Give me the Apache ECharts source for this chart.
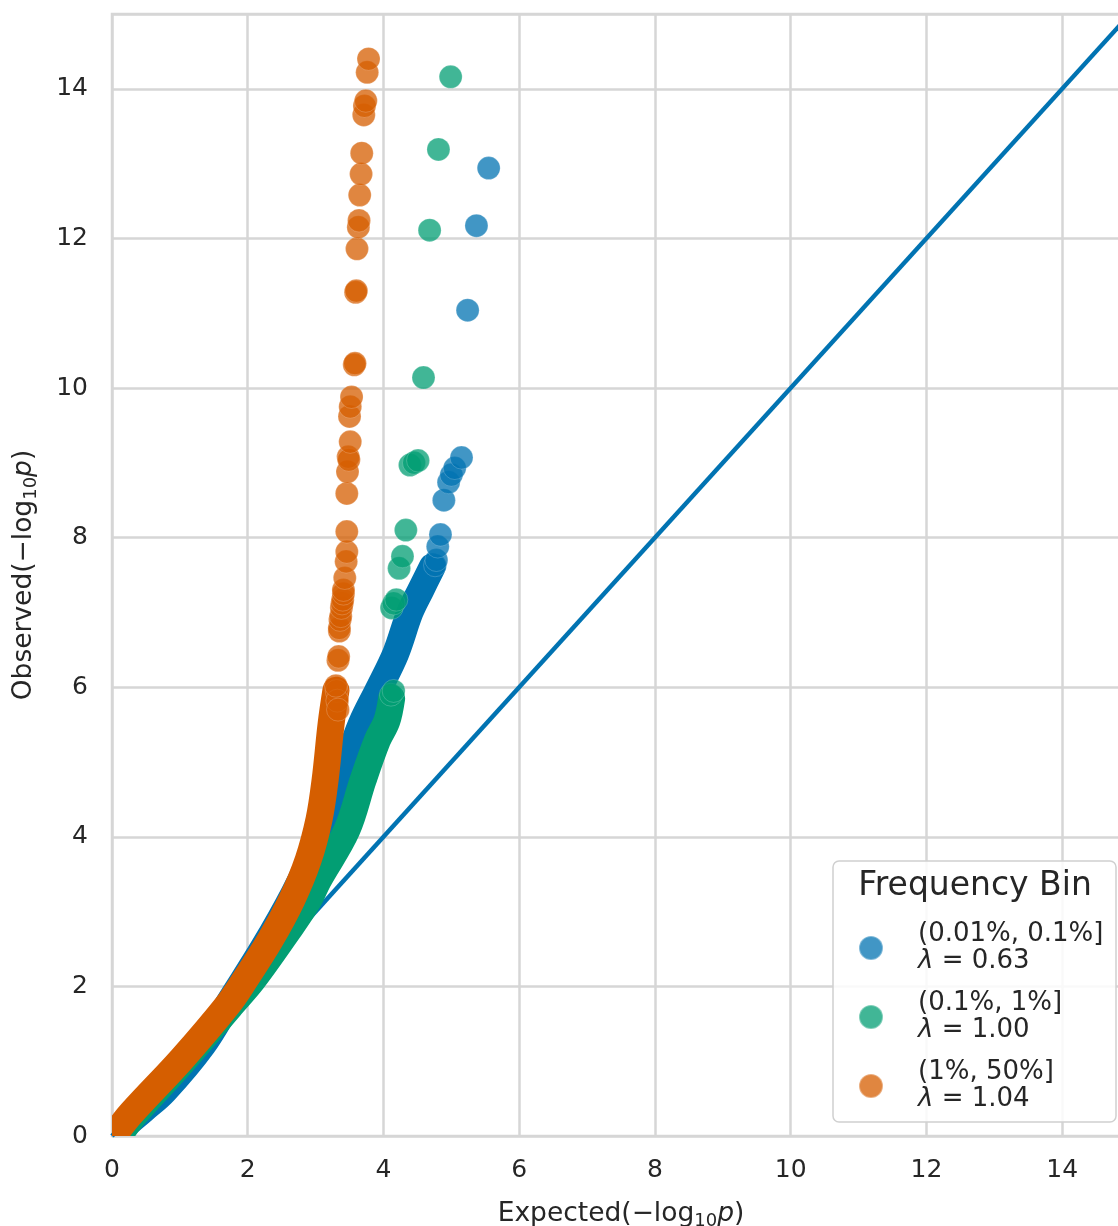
<!DOCTYPE html>
<html>
<head>
<meta charset="utf-8">
<script src="https://cdn.jsdelivr.net/npm/echarts@6/dist/echarts.min.js"></script>
<style>
  html, body { margin: 0; padding: 0; background: #fff; }
  #chart { width: 1118px; height: 1226px; }
</style>
</head>
<body>
<div id="chart"></div>
<script>
// Q-Q plot of association p-values, split by allele frequency bin.

const bins = ['(0.01%, 0.1%]', '(0.1%, 1%]', '(1%, 50%]'];
const lambdas = ['0.63', '1.00', '1.04'];
const colors = ['#0173b2', '#029e73', '#d55e00'];
const tickValues = [0, 2, 4, 6, 8, 10, 12, 14];

// Dense part of each bin (thousands of overlapping points), traced as [expected, observed]
const blueDense = [[0.06, 0.02], [0.18, 0.13], [0.46, 0.35], [0.77, 0.60], [1.34, 1.22], [1.75, 1.82],
  [2.24, 2.53], [2.68, 3.24], [2.97, 3.80], [3.23, 4.49], [3.40, 4.85], [3.68, 5.52], [3.92, 5.96],
  [4.18, 6.45], [4.39, 7.00], [4.55, 7.30], [4.72, 7.61]];
const greenDense = [[0.10, 0.0], [0.33, 0.28], [1.04, 0.99], [1.74, 1.73], [2.08, 2.09], [2.60, 2.75],
  [2.90, 3.16], [3.04, 3.42], [3.46, 4.09], [3.70, 4.76], [3.91, 5.29], [4.05, 5.55], [4.12, 5.85]];
const orangeDense = [[0.02, 0.0], [0.29, 0.31], [1.02, 1.02], [1.71, 1.76], [1.96, 2.09], [2.33, 2.62],
  [2.65, 3.16], [2.89, 3.69], [3.05, 4.23], [3.14, 4.76], [3.23, 5.52], [3.30, 5.96]];

// Sparse tail of each bin: individual variants
const bluePoints = [[4.76, 7.63], [4.78, 7.70], [4.80, 7.88], [4.84, 8.04], [4.89, 8.50], [4.96, 8.74],
  [5.00, 8.84], [5.05, 8.93], [5.15, 9.07], [5.24, 11.04], [5.37, 12.17], [5.55, 12.94]];
const greenPoints = [[4.11, 5.90], [4.15, 5.95], [4.12, 7.06], [4.15, 7.12], [4.19, 7.17], [4.23, 7.59],
  [4.28, 7.75], [4.33, 8.10], [4.39, 8.97], [4.45, 9.00], [4.51, 9.03], [4.59, 10.14], [4.68, 12.11],
  [4.81, 13.19], [4.99, 14.16]];
const orangePoints = [[3.31, 5.95], [3.32, 5.82], [3.33, 5.70], [3.30, 6.02], [3.33, 6.36], [3.34, 6.41],
  [3.35, 6.75], [3.35, 6.79], [3.36, 6.90], [3.37, 6.95], [3.38, 7.06], [3.39, 7.12], [3.40, 7.17],
  [3.41, 7.25], [3.41, 7.30], [3.43, 7.46], [3.45, 7.68], [3.46, 7.81], [3.46, 8.08], [3.46, 8.59],
  [3.47, 8.88], [3.48, 9.08], [3.49, 9.04], [3.51, 9.28], [3.50, 9.62], [3.51, 9.75], [3.53, 9.88],
  [3.57, 10.31], [3.58, 10.33], [3.59, 11.28], [3.60, 11.30], [3.61, 11.86], [3.63, 12.15], [3.64, 12.24],
  [3.65, 12.58], [3.67, 12.86], [3.68, 13.14], [3.71, 13.65], [3.72, 13.77], [3.74, 13.84], [3.76, 14.22],
  [3.78, 14.40]];

// Null expectation: observed = expected
const diagonal = [[0, 0], [15, 15]];

const FONT = '"DejaVu Sans", "Noto Sans", sans-serif';
const INK = '#262626';
const GRID = '#d6d6d6';

const dense = [blueDense, greenDense, orangeDense];
const points = [bluePoints, greenPoints, orangePoints];

function tickFmt(v) { return tickValues.indexOf(v) >= 0 ? String(v) : ''; }

const axisRich = {
  a: { fontFamily: FONT, fontSize: 26.5, color: INK },
  s: { fontFamily: FONT, fontSize: 18, color: INK, padding: [14, 0, 0, 0] },
  i: { fontFamily: FONT, fontSize: 26.5, color: INK, fontStyle: 'italic' }
};

// The dense run of each bin is drawn as one thick rounded stroke through its traced points,
// clipped exactly to the plotting area.
function denseRenderer(track, color) {
  return function (params, api) {
    if (params.dataIndex !== 0) return null;
    return {
      type: 'polyline',
      shape: { points: track.map(function (p) { return api.coord(p); }), smooth: 0.35 },
      style: { stroke: color, lineWidth: 27, lineCap: 'round', lineJoin: 'round', fill: null }
    };
  };
}

const series = [{
  name: 'diagonal', type: 'line', data: diagonal, symbol: 'none', silent: true, z: 1,
  lineStyle: { color: '#0173b2', width: 4.5 }
}];
for (let k = 0; k < 3; k++) {
  series.push({
    name: 'dense-' + k, type: 'custom', data: dense[k], clip: true, silent: true, z: 2,
    encode: { x: 0, y: 1 },
    renderItem: denseRenderer(dense[k], colors[k])
  });
  series.push({
    name: bins[k], type: 'scatter', data: points[k], symbolSize: 23, z: 2,
    itemStyle: { color: colors[k], opacity: 0.75, borderColor: 'rgba(255,255,255,0.45)', borderWidth: 0.6 }
  });
}

const chart = echarts.init(document.getElementById('chart'), null, { renderer: 'canvas' });
chart.setOption({
  animation: false,
  backgroundColor: '#ffffff',
  grid: {
    left: 112, top: 14, right: -12, bottom: 90, outerBoundsMode: 'none', containLabel: false,
    show: true, borderColor: GRID, borderWidth: 2.5
  },
  xAxis: {
    type: 'value', min: 0, max: 15, interval: 2,
    name: '{a|Expected(−log}{s|10}{i|p}{a|)}', nameLocation: 'middle', nameGap: 62,
    nameTextStyle: { rich: axisRich },
    axisLine: { show: false }, axisTick: { show: false },
    axisLabel: { fontFamily: FONT, fontSize: 25, color: INK, margin: 22, formatter: tickFmt },
    splitLine: { lineStyle: { color: GRID, width: 2.5 } }
  },
  yAxis: {
    type: 'value', min: 0, max: 15, interval: 2,
    name: '{a|Observed(−log}{s|10}{i|p}{a|)}', nameLocation: 'middle', nameGap: 72, nameRotate: 90,
    nameTextStyle: { rich: axisRich },
    axisLine: { show: false }, axisTick: { show: false },
    axisLabel: { fontFamily: FONT, fontSize: 25, color: INK, margin: 24, formatter: tickFmt },
    splitLine: { lineStyle: { color: GRID, width: 2.5 } }
  },
  legend: {
    data: bins, orient: 'vertical', left: 858, top: 921, padding: 0, itemGap: 15,
    itemWidth: 24, itemHeight: 24, icon: 'circle', z: 8,
    formatter: function (name) {
      const k = bins.indexOf(name);
      return '{n|' + name + '}\n{l|λ}{n| = ' + lambdas[k] + '}';
    },
    textStyle: {
      fontFamily: FONT, fontSize: 26, color: INK, lineHeight: 27, padding: [0, 0, 0, 30],
      rich: {
        n: { fontFamily: FONT, fontSize: 26, color: INK, lineHeight: 27 },
        l: { fontFamily: FONT, fontSize: 26, color: INK, lineHeight: 27, fontStyle: 'italic' }
      }
    }
  },
  graphic: [{
    type: 'rect', z: 7, shape: { x: 833, y: 861, width: 283, height: 261, r: 6 },
    style: { fill: 'rgba(255,255,255,0.85)', stroke: '#d0d0d0', lineWidth: 1.5 }
  }, {
    type: 'text', z: 8, x: 975, y: 886,
    style: { text: 'Frequency Bin', font: '33px ' + FONT, fill: INK, align: 'center', verticalAlign: 'middle' }
  }],
  series: series
});
</script>
</body>
</html>
